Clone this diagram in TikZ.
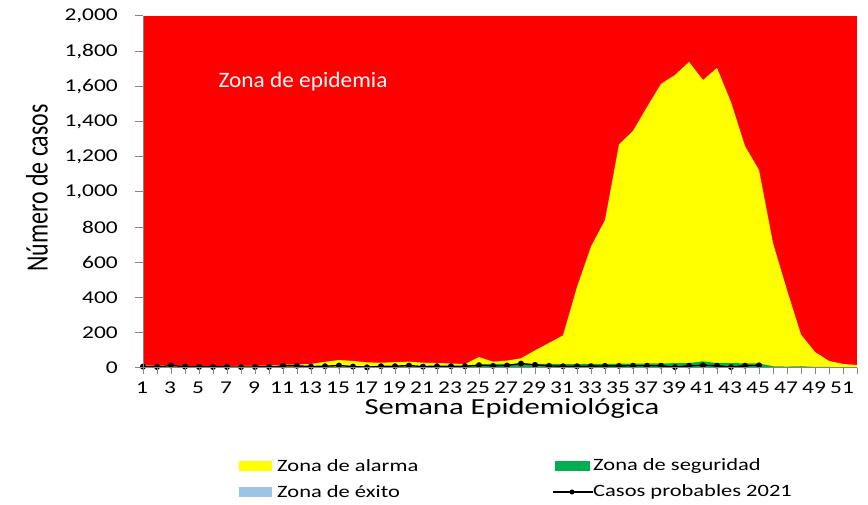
\documentclass[tikz,border=0pt]{standalone}
\usepackage{fontspec}
\setmainfont{Carlito}
\newfontfamily\tickfont[FakeStretch=1.3]{Carlito}
\newfontfamily\titlefont[FakeStretch=1.33]{Carlito}
\newfontfamily\ytitlefont[FakeStretch=0.77]{Carlito}
\newfontfamily\zonefont[FakeStretch=1.06]{Carlito}
\definecolor{epired}{RGB}{255,0,0}
\definecolor{alarmyel}{RGB}{255,255,0}
\definecolor{segverde}{RGB}{0,176,80}
\definecolor{exitoazul}{RGB}{157,195,230}
\definecolor{axgray}{RGB}{134,134,134}
\begin{document}
\begin{tikzpicture}[x=1pt,y=1pt,
    axisline/.style={axgray,line width=1pt},
    ticklabel/.style={inner sep=0pt,font=\tickfont\fontsize{18}{18}\selectfont},
    legtext/.style={inner sep=0pt,anchor=west,font=\tickfont\fontsize{17.3}{18}\selectfont},
    casodot/.style={circle,fill=black,inner sep=0pt,minimum size=6pt}]
  \useasboundingbox (0,0) rectangle (868,505);

  %Zones
  \fill[epired] (143,137) rectangle (857,489);
  \begin{scope}[shift={(129,137)},x=14pt,y=0.176pt]
    \fill[alarmyel] (1,0) -- plot coordinates {(1,15) (2,12) (3,18) (4,12) (5,10) (6,10) (7,10) (8,12) (9,12) (10,14) (11,18) (12,20) (13,23) (14,35) (15,45) (16,40) (17,32) (18,30) (19,33) (20,36) (21,30) (22,28) (23,26) (24,22) (25,62) (26,36) (27,42) (28,55) (29,100) (30,142) (31,185) (32,460) (33,690) (34,840) (35,1270) (36,1347) (37,1483) (38,1614) (39,1665) (40,1739) (41,1636) (42,1705) (43,1511) (44,1261) (45,1125) (46,710) (47,443) (48,190) (49,91) (50,40) (51,23) (52,17)} -- (52,0) -- cycle;
    \fill[segverde] (1,0) -- plot coordinates {(1,6) (12,6) (13,8) (24,10) (25,20) (26,24) (30,24) (31,22) (35,24) (40,28) (41,38) (42,28) (45,26) (46,10) (47,8) (48,10) (49,6) (52,5)} -- (52,0) -- cycle;
    \fill[exitoazul] (1,0) -- plot coordinates {(1,3) (52,3)} -- (52,0) -- cycle;
    % Casos probables 2021
    \draw[black,line width=1.4pt] plot coordinates {(1,8) (2,6) (3,14) (4,8) (5,6) (6,6) (7,6) (8,5) (9,6) (10,6) (11,12) (12,12) (13,8) (14,10) (15,14) (16,8) (17,4) (18,10) (19,10) (20,14) (21,8) (22,10) (23,10) (24,10) (25,16) (26,12) (27,14) (28,25) (29,18) (30,12) (31,10) (32,10) (33,10) (34,12) (35,12) (36,13) (37,13) (38,13) (39,5) (40,13) (41,15) (42,13) (43,5) (44,13) (45,15)};
    \foreach \w/\v [count=\i] in {1/8,2/6,3/14,4/8,5/6,6/6,7/6,8/5,9/6,10/6,11/12,12/12,13/8,14/10,15/14,16/8,17/4,18/10,19/10,20/14,21/8,22/10,23/10,24/10,25/16,26/12,27/14,28/25,29/18,30/12,31/10,32/10,33/10,34/12,35/12,36/13,37/13,38/13,39/5,40/13,41/15,42/13,43/5,44/13,45/15}
      \node[casodot] (c\i) at (\w,\v) {};
  \end{scope}

  %Axis
  \draw[axisline] (143,137) -- (143,489);
  \draw[axisline] (143,137) -- (857,137);
  \foreach \k/\lab in {0/0,1/200,2/400,3/600,4/800,5/{1,000},6/{1,200},7/{1,400},8/{1,600},9/{1,800},10/{2,000}}{
    \draw[axisline] (135,137+35.2*\k) -- (143,137+35.2*\k);
    \node[ticklabel,anchor=east] (y\k) at (118,137+35.2*\k) {\lab};
  }
  \foreach \w in {1,...,52}
    \draw[axisline] (129+14*\w,137) -- (129+14*\w,131);
  \foreach \w in {1,3,...,51}
    \node[ticklabel] (x\w) at (128+14*\w,117) {\w};

  %Titles
  \node[inner sep=0pt,font=\titlefont\fontsize{23}{23}\selectfont] (xtitle) at (512,97) {Semana Epidemiológica};
  \node[inner sep=0pt,rotate=90,font=\ytitlefont\fontsize{31}{31}\selectfont] (ytitle) at (37,317) {Número de casos};
  \node[inner sep=0pt,white,font=\zonefont\fontsize{22}{22}\selectfont] (epi) at (303,423) {Zona de epidemia};

  %Legend
  \fill[alarmyel] (239,34) rectangle (272,44) coordinate (sw1);
  \node[legtext] (l1) at (277,39) {Zona de alarma};
  \fill[segverde] (555,34) rectangle (590,44) coordinate (sw2);
  \node[legtext] (l2) at (593,39) {Zona de seguridad};
  \fill[exitoazul] (239,8) rectangle (272,18) coordinate (sw3);
  \node[legtext] (l3) at (277,13) {Zona de éxito};
  \coordinate (k1) at (553,13);
  \node[legtext] (l4) at (593,13) {Casos probables 2021};
  \draw[black,line width=1.4pt] (k1) -- (l4.west);
  \node[casodot,minimum size=5pt] (kd) at (572,13) {};
\end{tikzpicture}
\end{document}
